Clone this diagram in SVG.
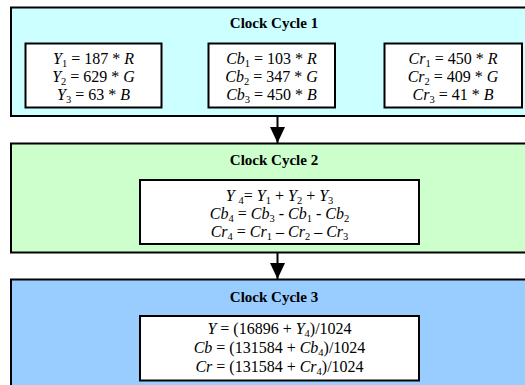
<svg xmlns="http://www.w3.org/2000/svg" width="525" height="385" viewBox="0 0 525 385">
<style>
.outer{stroke:#000;stroke-width:2}
.inner{fill:#fff;stroke:#000;stroke-width:2}
.t{font-family:"Liberation Serif","Times New Roman",serif;font-size:16px;text-anchor:middle;fill:#000}
.ttl{font-family:"Liberation Serif","Times New Roman",serif;font-size:15px;font-weight:bold;text-anchor:middle;fill:#000}
.i{font-style:italic}
.s{font-size:10.5px}
.conn{stroke:#000;stroke-width:2;fill:none}
</style>
<defs>
<marker id="ah" markerWidth="16" markerHeight="15" refX="16" refY="7.5" orient="auto" markerUnits="userSpaceOnUse" viewBox="0 0 16 15">
<path d="M0,0 L16,7.5 L0,15 Z" fill="#000"/>
</marker>
</defs>
<rect width="525" height="385" fill="#fff"/>
<g id="cycle1">
<rect class="outer" x="11" y="7.5" width="530" height="108.5" fill="#CCFFFF"/>
<text class="ttl" x="274" y="28">Clock Cycle 1</text>
<g id="y-box">
<rect class="inner" x="25.5" y="43.5" width="136" height="64"/>
<text class="t" x="93.5" y="64"><tspan class="i">Y</tspan><tspan class="s" dy="2.5">1</tspan><tspan dy="-2.5"> = 187 * </tspan><tspan class="i">R</tspan></text>
<text class="t" x="93.5" y="82"><tspan class="i">Y</tspan><tspan class="s" dy="2.5">2</tspan><tspan dy="-2.5"> = 629 * </tspan><tspan class="i">G</tspan></text>
<text class="t" x="93.5" y="100"><tspan class="i">Y</tspan><tspan class="s" dy="2.5">3</tspan><tspan dy="-2.5"> = 63 * </tspan><tspan class="i">B</tspan></text>
</g>
<g id="cb-box">
<rect class="inner" x="208.5" y="43.5" width="126.5" height="64"/>
<text class="t" x="271.5" y="64"><tspan class="i">Cb</tspan><tspan class="s" dy="2.5">1</tspan><tspan dy="-2.5"> = 103 * </tspan><tspan class="i">R</tspan></text>
<text class="t" x="271.5" y="82"><tspan class="i">Cb</tspan><tspan class="s" dy="2.5">2</tspan><tspan dy="-2.5"> = 347 * </tspan><tspan class="i">G</tspan></text>
<text class="t" x="271.5" y="100"><tspan class="i">Cb</tspan><tspan class="s" dy="2.5">3</tspan><tspan dy="-2.5"> = 450 * </tspan><tspan class="i">B</tspan></text>
</g>
<g id="cr-box">
<rect class="inner" x="384.5" y="43.5" width="137.5" height="64"/>
<text class="t" x="453" y="64"><tspan class="i">Cr</tspan><tspan class="s" dy="2.5">1</tspan><tspan dy="-2.5"> = 450 * </tspan><tspan class="i">R</tspan></text>
<text class="t" x="453" y="82"><tspan class="i">Cr</tspan><tspan class="s" dy="2.5">2</tspan><tspan dy="-2.5"> = 409 * </tspan><tspan class="i">G</tspan></text>
<text class="t" x="453" y="100"><tspan class="i">Cr</tspan><tspan class="s" dy="2.5">3</tspan><tspan dy="-2.5"> = 41 * </tspan><tspan class="i">B</tspan></text>
</g>
</g>
<g id="cycle2">
<rect class="outer" x="11" y="143.5" width="530" height="109" fill="#CCFFCC"/>
<text class="ttl" x="274" y="165">Clock Cycle 2</text>
<rect class="inner" x="140" y="180" width="279" height="64"/>
<text class="t" x="279.5" y="201"><tspan class="i">Y </tspan><tspan class="s" dy="2.5">4</tspan><tspan dy="-2.5">= </tspan><tspan class="i">Y</tspan><tspan class="s" dy="2.5">1</tspan><tspan dy="-2.5"> + </tspan><tspan class="i">Y</tspan><tspan class="s" dy="2.5">2</tspan><tspan dy="-2.5"> + </tspan><tspan class="i">Y</tspan><tspan class="s" dy="2.5">3</tspan></text>
<text class="t" x="279.5" y="219"><tspan class="i">Cb</tspan><tspan class="s" dy="2.5">4</tspan><tspan dy="-2.5"> = </tspan><tspan class="i">Cb</tspan><tspan class="s" dy="2.5">3</tspan><tspan dy="-2.5"> - </tspan><tspan class="i">Cb</tspan><tspan class="s" dy="2.5">1</tspan><tspan dy="-2.5"> - </tspan><tspan class="i">Cb</tspan><tspan class="s" dy="2.5">2</tspan></text>
<text class="t" x="279.5" y="237"><tspan class="i">Cr</tspan><tspan class="s" dy="2.5">4</tspan><tspan dy="-2.5"> = </tspan><tspan class="i">Cr</tspan><tspan class="s" dy="2.5">1</tspan><tspan dy="-2.5"> – </tspan><tspan class="i">Cr</tspan><tspan class="s" dy="2.5">2</tspan><tspan dy="-2.5"> – </tspan><tspan class="i">Cr</tspan><tspan class="s" dy="2.5">3</tspan></text>
</g>
<g id="cycle3">
<rect class="outer" x="11" y="279.5" width="530" height="120" fill="#99CCFF"/>
<text class="ttl" x="274" y="302">Clock Cycle 3</text>
<rect class="inner" x="140" y="316" width="279" height="64.5"/>
<text class="t" x="279.5" y="334"><tspan class="i">Y</tspan><tspan> = (16896 + </tspan><tspan class="i">Y</tspan><tspan class="s" dy="2.5">4</tspan><tspan dy="-2.5">)/1024</tspan></text>
<text class="t" x="279.5" y="353"><tspan class="i">Cb</tspan><tspan> = (131584 + </tspan><tspan class="i">Cb</tspan><tspan class="s" dy="2.5">4</tspan><tspan dy="-2.5">)/1024</tspan></text>
<text class="t" x="279.5" y="372"><tspan class="i">Cr</tspan><tspan> = (131584 + </tspan><tspan class="i">Cr</tspan><tspan class="s" dy="2.5">4</tspan><tspan dy="-2.5">)/1024</tspan></text>
</g>
<g id="connectors">
<line class="conn" x1="277.5" y1="116" x2="277.5" y2="143" marker-end="url(#ah)"/>
<line class="conn" x1="277.5" y1="253" x2="277.5" y2="279" marker-end="url(#ah)"/>
</g>
</svg>
